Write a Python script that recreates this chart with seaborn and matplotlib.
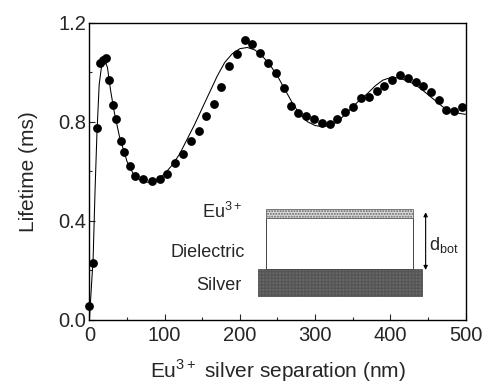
import matplotlib
matplotlib.use("Agg")
import matplotlib.pyplot as plt
from matplotlib.patches import Rectangle
from matplotlib.ticker import MultipleLocator
import seaborn as sns
import pandas as pd

# measured lifetimes (points)
sep_nm = [0, 5.2, 9.7, 14, 18.5, 22, 26, 31, 35.7, 41.5, 46.4, 53.5, 61, 71.6, 82.7,
          93.3, 103, 113.7, 123.9, 134.5, 145.2, 155.2, 165.9, 174.8, 185.4, 196, 207,
          216.4, 227, 237.6, 248.2, 258.4, 268.1, 277.9, 288.6, 299.2, 309.3, 319.5,
          329.7, 339.8, 350.5, 361, 371.3, 381.9, 391.6, 402.8, 412.9, 423.1, 433.7,
          443.9, 454, 464.3, 474.5, 484.6, 494.8]
lifetime_ms = [0.056, 0.229, 0.774, 1.037, 1.048, 1.057, 0.969, 0.868, 0.81, 0.724, 0.68,
               0.623, 0.582, 0.57, 0.559, 0.571, 0.59, 0.633, 0.67, 0.723, 0.763, 0.824,
               0.872, 0.942, 1.026, 1.073, 1.131, 1.115, 1.077, 1.037, 0.995, 0.938, 0.864,
               0.834, 0.825, 0.813, 0.797, 0.793, 0.812, 0.839, 0.858, 0.898, 0.899, 0.926,
               0.945, 0.969, 0.989, 0.976, 0.96, 0.945, 0.921, 0.886, 0.849, 0.843, 0.861]

# calculated curve (line)
fit_nm = [0, 3, 5, 7.5, 10, 13, 16, 20, 24, 28, 33, 40, 50, 60, 70, 80, 90, 100, 110, 120,
          130, 140, 150, 160, 170, 180, 190, 200, 210, 220, 230, 240, 250, 260, 270, 280,
          290, 300, 310, 320, 330, 340, 350, 360, 370, 380, 390, 400, 410, 420, 430, 440,
          450, 460, 470, 480, 490, 500]
fit_ms = [0.0, 0.15, 0.25, 0.52, 0.75, 0.95, 1.02, 1.05, 1.02, 0.93, 0.84, 0.74, 0.64,
          0.58, 0.56, 0.555, 0.565, 0.59, 0.625, 0.67, 0.73, 0.79, 0.855, 0.92, 0.985,
          1.04, 1.075, 1.095, 1.10, 1.09, 1.065, 1.03, 0.985, 0.93, 0.875, 0.83, 0.80,
          0.785, 0.78, 0.785, 0.80, 0.83, 0.86, 0.89, 0.915, 0.945, 0.968, 0.978, 0.978,
          0.968, 0.955, 0.935, 0.91, 0.885, 0.86, 0.845, 0.835, 0.83]

xticks = [0, 100, 200, 300, 400, 500]
yticks = [0.0, 0.4, 0.8, 1.2]
ytick_labels = ["0.0", "0.4", "0.8", "1.2"]

sns.set_style("ticks")
plt.rcParams['font.family'] = ['Liberation Sans', 'DejaVu Sans']
plt.rcParams['mathtext.fontset'] = 'custom'
plt.rcParams['mathtext.rm'] = 'Liberation Sans'

fig = plt.figure(figsize=(4.85, 3.88), dpi=100)
ax = fig.add_axes([0.1843, 0.1753, 0.7755, 0.7662])

pts = pd.DataFrame({"x": sep_nm, "y": lifetime_ms})
fit = pd.DataFrame({"x": fit_nm, "y": fit_ms})
sns.lineplot(data=fit, x="x", y="y", ax=ax, color="black", linewidth=0.75, sort=False)
sns.scatterplot(data=pts, x="x", y="y", ax=ax, color="black", s=40, edgecolor="black",
                linewidth=0, zorder=3, clip_on=False)

ax.set_xlim(0, 500)
ax.set_ylim(0, 1.2)
ax.set_xticks(xticks)
ax.set_yticks(yticks)
ax.set_yticklabels(ytick_labels)
ax.xaxis.set_minor_locator(MultipleLocator(50))
ax.yaxis.set_minor_locator(MultipleLocator(0.2))
ax.tick_params(which="major", direction="in", length=4.5, width=0.8, labelsize=14.5)
ax.tick_params(axis="y", which="major", pad=2)
ax.tick_params(axis="x", which="major", pad=4)
ax.tick_params(which="minor", direction="in", length=2.3, width=0.8)
for s in ax.spines.values():
    s.set_linewidth(1.0)
    s.set_color("black")
ax.set_xlabel(r"Eu$^{3+}$ silver separation (nm)", fontsize=15, labelpad=9)
ax.set_ylabel("Lifetime (ms)", fontsize=15, labelpad=15)

# inset layer diagram
ax.add_patch(Rectangle((224.3, 0.098), 217.7, 0.108, facecolor="#6a6a6a",
                       edgecolor="#555555", hatch="+++++", linewidth=0.6, zorder=4))
ax.add_patch(Rectangle((235.4, 0.206), 194.6, 0.207, facecolor="white",
                       edgecolor="#444444", linewidth=0.7, zorder=4))
ax.add_patch(Rectangle((235.4, 0.413), 194.6, 0.035, facecolor="#dddddd",
                       edgecolor="#666666", hatch="......", linewidth=0.6, zorder=4))
ax.annotate("", xy=(447, 0.202), xytext=(447, 0.435),
            arrowprops=dict(arrowstyle="<|-|>", color="black", lw=0.8,
                            mutation_scale=6, shrinkA=0, shrinkB=0), zorder=5)
ax.text(204, 0.437, r"Eu$^{3+}$", ha="right", va="center", fontsize=13)
ax.text(207, 0.271, "Dielectric", ha="right", va="center", fontsize=13)
ax.text(202, 0.141, "Silver", ha="right", va="center", fontsize=13)
ax.text(451, 0.303, r"d$_{\mathrm{bot}}$", ha="left", va="center", fontsize=13)

fig.savefig("out.png", dpi=100)
